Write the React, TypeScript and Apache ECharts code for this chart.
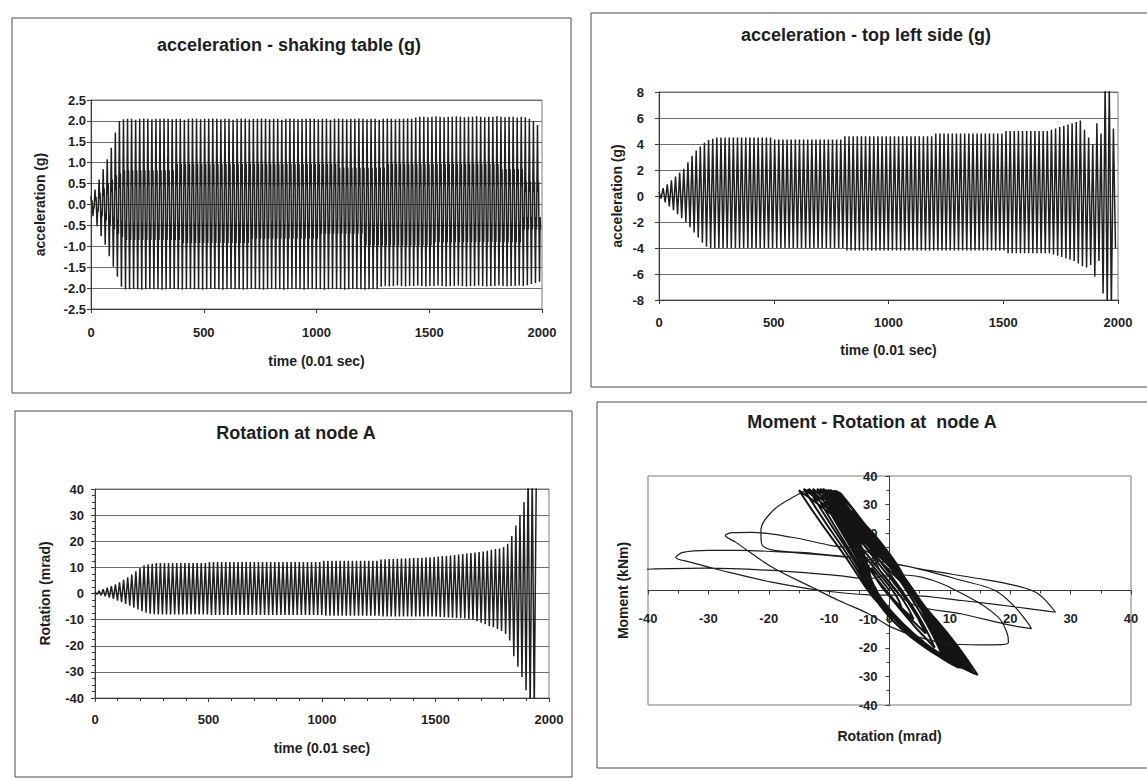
import React, { useEffect, useRef } from "react";
import * as echarts from "echarts";

const FONT = "'Liberation Sans', Arial, Helvetica, sans-serif";
const INK = "#202020";
const GRIDLINE = "#6e6e6e";
const AXIS = "#3a3a3a";

// ---- time axis (units of 0.01 sec) ----
const TIME_TICKS = [0, 500, 1000, 1500, 2000];
const PERIOD = 18; // one oscillation cycle (~18 x 0.01 s)
const P1_OFFSETS = [0, 2.5, 4.5, 9, 11.5, 13.5]; // turning points inside one table cycle

// ---- acceleration - shaking table (g): per-cycle turning points ----
const P1_POS = [
  0.2, 0.36, 0.6, 0.84, 1.08, 1.36, 1.72, 2.0, 2.04, 2.05,
  2.05, 2.03, 2.05, 2.06, 2.05, 2.04, 2.05, 2.05, 2.06, 2.05,
  2.04, 2.05, 2.05, 2.03, 2.05, 2.06, 2.05, 2.04, 2.05, 2.05,
  2.06, 2.05, 2.04, 2.05, 2.05, 2.03, 2.05, 2.06, 2.05, 2.04,
  2.05, 2.05, 2.06, 2.05, 2.04, 2.05, 2.05, 2.03, 2.05, 2.06,
  2.05, 2.04, 2.05, 2.05, 2.06, 2.05, 2.04, 2.05, 2.05, 2.03,
  2.05, 2.06, 2.05, 2.04, 2.05, 2.05, 2.06, 2.05, 2.04, 2.05,
  2.05, 2.03, 2.05, 2.06, 2.05, 2.04, 2.05, 2.05, 2.06, 2.05,
  2.08, 2.1, 2.1, 2.09, 2.1, 2.11, 2.1, 2.09, 2.1, 2.1,
  2.11, 2.1, 2.09, 2.1, 2.1, 2.11, 2.1, 2.09, 2.1, 2.1,
  2.11, 2.1, 2.09, 2.1, 2.1, 2.08, 2.1, 2.09, 2.05, 2.0,
  1.9,
];
const P1_HIDIP = [
  0.05, 0.1, 0.15, 0.2, 0.25, 0.3, 0.35, 0.4, 0.45, 0.45,
  0.45, 0.45, 0.45, 0.45, 0.45, 0.45, 0.45, 0.45, 0.45, 0.45,
  0.45, 0.45, 0.45, 0.45, 0.45, 0.45, 0.45, 0.45, 0.45, 0.45,
  0.45, 0.45, 0.45, 0.45, 0.45, 0.45, 0.45, 0.45, 0.45, 0.45,
  0.45, 0.45, 0.45, 0.45, 0.45, 0.45, 0.45, 0.45, 0.45, 0.45,
  0.45, 0.45, 0.45, 0.45, 0.45, 0.45, 0.45, 0.45, 0.45, 0.45,
  0.45, 0.45, 0.45, 0.45, 0.45, 0.45, 0.45, 0.45, 0.45, 0.45,
  0.45, 0.45, 0.45, 0.45, 0.45, 0.45, 0.45, 0.45, 0.45, 0.45,
  0.45, 0.45, 0.45, 0.45, 0.45, 0.45, 0.45, 0.45, 0.45, 0.45,
  0.45, 0.45, 0.45, 0.45, 0.45, 0.45, 0.45, 0.45, 0.45, 0.45,
  0.45, 0.45, 0.45, 0.45, 0.45, 0.45, 0.45, 0.3, 0.3, 0.3,
  0.3,
];
const P1_HI = [
  0.1, 0.18, 0.28, 0.38, 0.5, 0.6, 0.7, 0.75, 0.82, 0.82,
  0.82, 0.82, 0.82, 0.82, 0.82, 0.82, 0.82, 0.82, 0.82, 0.82,
  0.82, 0.97, 0.97, 0.97, 0.97, 0.97, 0.97, 0.97, 0.97, 0.97,
  0.97, 0.97, 0.97, 0.97, 0.97, 0.97, 0.97, 0.97, 0.97, 0.97,
  0.97, 0.97, 0.97, 0.97, 0.97, 0.97, 0.97, 0.97, 0.97, 0.97,
  0.97, 0.97, 0.97, 0.97, 0.97, 0.97, 0.97, 0.97, 0.97, 0.97,
  0.97, 0.88, 0.88, 0.88, 0.88, 0.88, 0.88, 0.88, 0.88, 0.88,
  0.88, 0.88, 0.88, 0.97, 0.97, 0.97, 0.97, 0.97, 0.97, 0.97,
  0.97, 0.97, 0.97, 0.97, 0.97, 0.97, 0.97, 0.97, 0.97, 0.97,
  0.97, 0.97, 0.97, 0.97, 0.97, 0.97, 0.97, 0.97, 0.97, 0.97,
  0.97, 0.85, 0.85, 0.85, 0.85, 0.85, 0.85, 0.55, 0.55, 0.55,
  0.55,
];
const P1_NEG = [
  -0.28, -0.52, -0.76, -0.96, -1.24, -1.49, -1.73, -1.97, -2.03, -2.03,
  -2.02, -2.03, -2.04, -2.03, -2.02, -2.03, -2.03, -2.04, -2.03, -2.02,
  -2.02, -2.03, -2.04, -2.03, -2.02, -2.03, -2.03, -2.04, -2.03, -2.02,
  -2.02, -2.03, -2.04, -2.03, -2.02, -2.03, -2.03, -2.04, -2.03, -2.02,
  -2.02, -2.03, -2.04, -2.03, -2.02, -2.03, -2.03, -2.04, -2.03, -2.02,
  -2.02, -2.03, -2.04, -2.03, -2.02, -2.03, -2.03, -2.04, -2.03, -2.02,
  -2.02, -2.03, -2.04, -2.03, -2.02, -2.03, -2.03, -2.04, -2.03, -2.02,
  -2.03, -1.97, -1.95, -1.96, -1.95, -1.94, -1.95, -1.96, -1.95, -1.95,
  -1.94, -1.95, -1.96, -1.95, -1.95, -1.94, -1.95, -1.96, -1.95, -1.95,
  -1.94, -1.95, -1.96, -1.95, -1.95, -1.94, -1.95, -1.96, -1.95, -1.95,
  -1.94, -1.95, -1.96, -1.95, -1.95, -1.94, -1.95, -1.93, -1.9, -1.88,
  -1.85,
];
const P1_LODIP = [
  -0.05, -0.1, -0.15, -0.2, -0.25, -0.3, -0.35, -0.4, -0.45, -0.45,
  -0.45, -0.45, -0.45, -0.45, -0.45, -0.45, -0.45, -0.45, -0.45, -0.45,
  -0.45, -0.45, -0.45, -0.45, -0.45, -0.45, -0.45, -0.45, -0.45, -0.45,
  -0.45, -0.45, -0.45, -0.45, -0.45, -0.45, -0.45, -0.45, -0.45, -0.45,
  -0.45, -0.45, -0.45, -0.45, -0.45, -0.45, -0.45, -0.45, -0.45, -0.45,
  -0.45, -0.45, -0.45, -0.45, -0.45, -0.45, -0.45, -0.45, -0.45, -0.45,
  -0.45, -0.45, -0.45, -0.45, -0.45, -0.45, -0.45, -0.45, -0.45, -0.45,
  -0.45, -0.45, -0.45, -0.45, -0.45, -0.45, -0.45, -0.45, -0.45, -0.45,
  -0.45, -0.45, -0.45, -0.45, -0.45, -0.45, -0.45, -0.45, -0.45, -0.45,
  -0.45, -0.45, -0.45, -0.45, -0.45, -0.45, -0.45, -0.45, -0.45, -0.45,
  -0.45, -0.45, -0.45, -0.45, -0.45, -0.45, -0.3, -0.3, -0.3, -0.3,
  -0.3,
];
const P1_LO = [
  -0.1, -0.18, -0.28, -0.38, -0.5, -0.6, -0.7, -0.78, -0.85, -0.85,
  -0.85, -0.85, -0.85, -0.85, -0.85, -0.85, -0.85, -0.85, -0.85, -0.85,
  -0.85, -0.85, -0.92, -0.92, -0.92, -0.92, -0.92, -0.92, -0.92, -0.92,
  -0.92, -0.92, -0.92, -0.92, -0.92, -0.92, -0.92, -0.92, -0.92, -0.82,
  -0.82, -0.82, -0.82, -0.82, -0.82, -0.82, -0.82, -0.82, -0.82, -0.82,
  -0.82, -0.82, -0.82, -0.82, -0.82, -0.82, -0.7, -0.7, -0.7, -0.7,
  -0.7, -0.7, -0.7, -0.7, -0.7, -0.7, -0.7, -0.98, -0.98, -0.98,
  -0.98, -0.98, -0.98, -0.98, -0.98, -0.98, -0.98, -0.98, -0.98, -0.98,
  -0.98, -0.98, -0.98, -0.98, -0.9, -0.9, -0.9, -0.9, -0.9, -0.9,
  -0.9, -0.9, -0.9, -0.9, -0.9, -0.9, -0.9, -0.9, -0.9, -0.9,
  -0.9, -0.9, -0.9, -0.9, -0.9, -0.9, -0.6, -0.6, -0.6, -0.6,
  -0.6,
];

// ---- acceleration - top left side (g): per-cycle peaks ----
const P2_POS = [
  0.3, 0.6, 0.9, 1.2, 1.5, 1.8, 2.1, 2.6, 3.1, 3.5,
  3.8, 4.1, 4.3, 4.4, 4.5, 4.5, 4.5, 4.5, 4.5, 4.5,
  4.5, 4.5, 4.5, 4.5, 4.5, 4.5, 4.5, 4.5, 4.35, 4.35,
  4.35, 4.35, 4.35, 4.35, 4.35, 4.35, 4.35, 4.35, 4.35, 4.35,
  4.35, 4.35, 4.35, 4.35, 4.35, 4.6, 4.6, 4.6, 4.6, 4.6,
  4.6, 4.6, 4.6, 4.6, 4.6, 4.6, 4.6, 4.6, 4.6, 4.6,
  4.6, 4.6, 4.6, 4.6, 4.6, 4.6, 4.6, 4.8, 4.8, 4.8,
  4.8, 4.8, 4.8, 4.8, 4.8, 4.8, 4.8, 4.8, 4.8, 4.8,
  4.8, 4.8, 4.8, 4.8, 5.0, 5.0, 5.0, 5.0, 5.0, 5.0,
  5.0, 5.0, 5.0, 5.0, 5.0, 5.1, 5.2, 5.3, 5.4, 5.5,
  5.6, 5.7, 5.8, 5.1, 4.5, 4.0, 5.6, 4.8, 8.6, 8.6,
  5.2,
];
const P2_NEG = [
  -0.2, -0.5, -0.8, -1.1, -1.4, -1.7, -2.0, -2.4, -2.8, -3.2,
  -3.6, -3.9, -4.0, -4.0, -4.0, -4.0, -4.0, -4.0, -4.0, -4.0,
  -4.0, -4.0, -4.0, -4.0, -4.0, -4.0, -4.0, -4.0, -4.0, -4.0,
  -4.0, -4.0, -4.0, -4.0, -4.0, -4.0, -4.0, -4.0, -4.0, -4.0,
  -4.0, -4.0, -4.0, -4.0, -4.0, -4.2, -4.2, -4.2, -4.2, -4.2,
  -4.2, -4.2, -4.2, -4.2, -4.2, -4.2, -4.2, -4.2, -4.2, -4.2,
  -4.2, -4.2, -4.2, -4.2, -4.2, -4.2, -4.2, -4.2, -4.2, -4.2,
  -4.2, -4.2, -4.2, -4.2, -4.2, -4.2, -4.2, -4.2, -4.2, -4.2,
  -4.2, -4.2, -4.2, -4.2, -4.4, -4.4, -4.4, -4.4, -4.4, -4.4,
  -4.4, -4.4, -4.4, -4.4, -4.4, -4.5, -4.6, -4.7, -4.8, -4.9,
  -5.0, -5.2, -5.4, -5.5, -5.3, -6.2, -5.0, -7.5, -8.6, -8.6,
  -4.0,
];

// ---- Rotation at node A (mrad): per-cycle peaks ----
const P3_POS = [
  0.5, 1.0, 1.6, 2.2, 2.8, 3.5, 4.3, 5.2, 6.2, 7.3,
  8.5, 9.7, 10.8, 11.2, 11.4, 11.7, 11.7, 11.7, 11.7, 11.7,
  11.7, 11.7, 11.7, 11.7, 11.7, 11.7, 11.7, 11.7, 12.0, 12.0,
  12.0, 12.0, 12.0, 12.0, 12.0, 12.0, 12.0, 12.0, 12.0, 12.0,
  12.0, 12.0, 12.0, 12.0, 12.0, 12.0, 12.0, 12.0, 12.0, 12.0,
  12.0, 12.0, 12.0, 12.0, 12.0, 12.0, 12.5, 12.5, 12.5, 12.5,
  12.5, 12.5, 12.5, 12.5, 12.5, 12.5, 12.5, 12.5, 12.5, 12.5,
  13.0, 13.1, 13.2, 13.2, 13.3, 13.4, 13.4, 13.5, 13.6, 13.6,
  13.7, 13.8, 13.9, 14.0, 14.2, 14.3, 14.4, 14.5, 14.7, 14.9,
  15.1, 15.3, 15.5, 15.7, 15.9, 16.1, 16.4, 16.7, 17.0, 17.2,
  17.8, 19, 22, 26, 30, 35, 45, 45, 45,
];
const P3_NEG = [
  -0.3, -0.7, -1.1, -1.6, -2.1, -2.7, -3.3, -4.0, -4.7, -5.4,
  -6.1, -6.8, -7.4, -7.7, -7.9, -8.0, -8.0, -8.0, -8.0, -8.0,
  -8.0, -8.0, -8.0, -8.0, -8.0, -8.0, -8.0, -8.0, -8.2, -8.2,
  -8.2, -8.2, -8.2, -8.2, -8.2, -8.2, -8.2, -8.2, -8.2, -8.2,
  -8.2, -8.2, -8.2, -8.2, -8.2, -8.2, -8.2, -8.2, -8.2, -8.2,
  -8.2, -8.2, -8.2, -8.2, -8.2, -8.2, -8.5, -8.5, -8.5, -8.5,
  -8.5, -8.5, -8.5, -8.5, -8.5, -8.5, -8.5, -8.5, -8.5, -8.5,
  -8.8, -8.8, -8.8, -8.8, -8.8, -8.8, -8.8, -8.8, -8.8, -8.8,
  -8.8, -8.8, -8.8, -8.8, -9.0, -9.1, -9.2, -9.3, -9.4, -9.5,
  -9.6, -9.8, -10.1, -10.6, -11.2, -11.8, -12.4, -12.9, -13.6, -14.3,
  -15.5, -18, -24, -28, -32, -37, -45, -45,
];

// ---- Moment - Rotation at node A: hysteresis trace [rotation mrad, moment kNm] ----
const MR_BAND: [number, number][] = [
  [0, 0],
  [-3, 8], [-2.1, 3.8], [-0.1, -1.8], [2, -6], [1.1, -1.8], [-0.9, 3.8],
  [-5, 14], [-3.1, 6.8], [0.5, -2.8], [4, -10], [2.1, -2.8], [-1.5, 6.8],
  [-7, 21], [-4.1, 10.2], [1.1, -4.2], [6, -15], [3.1, -4.2], [-2.1, 10.2],
  [-8.5, 27], [-4.9, 12.9], [1.5, -5.9], [7.5, -20], [3.9, -5.9], [-2.5, 12.9],
  [-9.5, 32], [-5.95, 15.2], [-0.85, -7.2], [9, -24], [4.95, -7.2], [-2.45, 15.2],
  [-10, 34], [-6.0, 16.3], [-0.3, -7.3], [10, -25], [5.5, -7.3], [-2.5, 16.3],
  [-9, 35], [-5.35, 17.15], [-0.25, -6.65], [9.5, -24.5], [5.35, -6.65], [-2.05, 17.15],
  [-8.2, 34.2], [-5.0, 17.2], [-0.4, -6.4], [9.2, -24], [5.2, -6.4], [-1.6, 17.2],
  [-10.5, 35], [-6.2, 16.7], [-0.1, -7.7], [10.5, -26], [5.7, -7.7], [-2.7, 16.7],
  [-9.2, 35], [-5.6, 16.9], [0.1, -7.2], [10.2, -25.5], [5.8, -7.2], [-2.0, 16.9],
  [-8.5, 34.5], [-5.25, 17.1], [-0.55, -6.1], [9, -23.5], [5.25, -6.1], [-1.75, 17.1],
  [-11, 35.5], [-6.5, 16.9], [0, -7.9], [11, -26.5], [6, -7.9], [-2.8, 16.9],
  [-10.2, 35.2], [-6.1, 16.7], [0.4, -7.8], [11, -26.2], [6.2, -7.8], [-2.4, 16.7],
  [-9.5, 35], [-5.65, 17], [-0.15, -7], [10, -25], [5.65, -7], [-2.15, 17],
  [-9.6, 34.8], [-5.8, 16.8], [0.2, -7.4], [10.4, -25.6], [6.0, -7.4], [-2.2, 16.8],
  [-10, 35], [-5.65, 16.4], [0.65, -8.4], [11.5, -27], [6.65, -8.4], [-1.95, 16.4],
  [-9.8, 35.2], [-5.9, 16.8], [0.3, -7.5], [10.8, -26], [6.0, -7.5], [-2.3, 16.8],
  [-11.2, 35.4], [-6.6, 16.6], [0.7, -8.2], [11.8, -27], [6.6, -8.2], [-2.8, 16.6],
  [-10.8, 35.3], [-6.3, 16.6], [0.6, -8], [11.2, -26.8], [6.3, -8], [-2.6, 16.6],
  [-10.6, 35.2], [-6.4, 16.7], [0.5, -8.0], [11.4, -26.6], [6.5, -8.0], [-2.6, 16.7],
  [-8.8, 34.8], [-5.5, 17], [0, -6.8], [9.8, -24.8], [5.5, -6.8], [-1.9, 17],
  [-11.5, 35.5], [-6.65, 16.75], [0.45, -8.25], [12, -27], [6.65, -8.25], [-2.75, 16.75],
  [-12, 35.5], [-6.85, 16.6], [0.65, -8.6], [12.5, -27.5], [6.85, -8.6], [-2.95, 16.6],
  [-12.7, 35.5], [-7.29, 16.45], [0.69, -8.95], [13, -28], [7.09, -8.95], [-3.19, 16.45],
  [-13.4, 35.5], [-7.63, 16.3], [0.83, -9.3], [13.5, -28.5], [7.23, -9.3], [-3.53, 16.3],
  [-14.2, 35.5], [-8.14, 16.15], [0.84, -9.65], [14, -29], [7.44, -9.65], [-3.84, 16.15],
  [-15, 35], [-8.62, 15.65], [0.92, -10.15], [14.6, -29.5], [7.72, -10.15], [-4.12, 15.65],
  [-13.5, 35.3],
];
const MR_FINAL: [number, number][] = [
  [-13.5, 35.3], [-16.5, 32], [-19.5, 27.5], [-21.3, 21], [-21.2, 16.5], [-19.5, 14.2],
  [-14, 13.2], [-8, 12], [-1, 10], [6.5, 7], [14.7, 4.2], [20.9, 1.7], [24.5, -1],
  [27.5, -7.6], [23, -6.3], [12, -3.5], [3.6, -1.7], [-3.5, -1.5], [-11.3, 0],
  [-19.5, 2.9], [-27.8, 7], [-33, 9.9], [-35.4, 11.5], [-34.2, 13.3], [-30, 14],
  [-25, 14], [-13.9, 12.9], [-3.5, 10.8], [3.1, 8.4], [12, 3.5], [17.5, 0],
  [20.8, -5.8], [23, -11.6], [23.5, -13.3], [20.2, -12.2], [12, -8.2], [3.6, -4.6],
  [-1, 5], [-3.5, 13.4], [-9.6, 15.7], [-16.2, 18.6], [-22.8, 20.3], [-26, 20.2],
  [-27.2, 19.2], [-25.5, 16.9], [-19.5, 8.2], [-12.9, 1.2], [-8.4, -3.5], [-3.5, -8.1],
  [0.3, -12.8], [4.8, -16.3], [10, -18.6], [15, -19], [18.6, -18.9], [19.7, -18.1],
  [19.5, -15], [18, -9.3], [13.1, -2.3], [5.3, 4.7], [0, 5.5], [-3.5, 4.1],
  [-8.4, 5.2], [-19.5, 7], [-30.5, 7.8], [-42, 7.3],
];

function buildTable(): [number, number][] {
  const out: [number, number][] = [];
  const n = Math.min(P1_POS.length, P1_HIDIP.length, P1_HI.length, P1_NEG.length, P1_LODIP.length, P1_LO.length);
  for (let k = 0; k < n; k++) {
    const t = k * PERIOD;
    const vals = [P1_POS[k], P1_HIDIP[k], P1_HI[k], P1_NEG[k], P1_LODIP[k], P1_LO[k]];
    vals.forEach((v, i) => out.push([t + P1_OFFSETS[i], v]));
  }
  return out;
}

function buildPairs(pos: number[], neg: number[]): [number, number][] {
  const out: [number, number][] = [];
  for (let k = 0; k < pos.length; k++) {
    const t = k * PERIOD;
    out.push([t, pos[k]]);
    if (k < neg.length) out.push([t + PERIOD / 2, neg[k]]);
  }
  return out;
}

const tickLabel = (margin: number, extra: any = {}) => ({
  fontFamily: FONT,
  fontSize: 13,
  fontWeight: "bold",
  color: "#1e1e1e",
  margin,
  ...extra,
});
const nameStyle = { fontFamily: FONT, fontSize: 14, fontWeight: "bold", color: "#1e1e1e" };
const plain = (v: number) => String(v);

function timeAxis(gridIndex: number, margin: number, nameGap: number, minor: boolean) {
  return {
    gridIndex,
    type: "value",
    min: TIME_TICKS[0],
    max: TIME_TICKS[TIME_TICKS.length - 1],
    interval: TIME_TICKS[1] - TIME_TICKS[0],
    axisLine: { show: true, onZero: false, lineStyle: { color: AXIS, width: 1 } },
    axisTick: { show: true, length: 4, lineStyle: { color: AXIS } },
    minorTick: { show: minor, splitNumber: 5, length: 3, lineStyle: { color: AXIS } },
    axisLabel: tickLabel(margin, { formatter: plain }),
    splitLine: { show: false },
    name: "time (0.01 sec)",
    nameLocation: "middle",
    nameGap,
    nameTextStyle: nameStyle,
  };
}

function valueAxis(gridIndex: number, min: number, max: number, interval: number, name: string, nameGap: number, margin: number, opts: any = {}) {
  return {
    gridIndex,
    type: "value",
    min,
    max,
    interval,
    axisLine: { show: true, onZero: false, lineStyle: { color: AXIS, width: 1 } },
    axisTick: { show: true, length: 4, lineStyle: { color: AXIS } },
    axisLabel: tickLabel(margin, { formatter: opts.formatter || plain }),
    splitLine: { show: opts.split !== false, lineStyle: { color: GRIDLINE, width: 1 } },
    minorTick: opts.minorTick || { show: false },
    name,
    nameLocation: "middle",
    nameGap,
    nameRotate: 90,
    nameTextStyle: nameStyle,
  };
}

const frame = (x: number, y: number, w: number, h: number) => ({
  type: "rect",
  silent: true,
  shape: { x, y, width: w, height: h },
  style: { fill: "none", stroke: "#4a4a4a", lineWidth: 1 },
  z: 0,
});
const titleText = (text: string, x: number, y: number) => ({
  type: "text",
  silent: true,
  x,
  y,
  style: {
    text,
    font: `bold 18px ${FONT}`,
    fill: "#1e1e1e",
    textAlign: "center",
    textVerticalAlign: "middle",
    align: "center",
    verticalAlign: "middle",
  },
  z: 10,
});

const gridBox = (left: number, top: number, right: number, bottom: number) => ({
  left,
  top,
  width: right - left,
  height: bottom - top,
  show: true,
  borderColor: "#7a7a7a",
  borderWidth: 1,
  backgroundColor: "transparent",
  containLabel: false,
  outerBoundsMode: "none",
});

const lineSeries = (idx: number, data: [number, number][], extra: any = {}) => ({
  type: "line",
  xAxisIndex: idx,
  yAxisIndex: idx,
  data,
  symbol: "none",
  showSymbol: false,
  clip: true,
  animation: false,
  lineStyle: { color: INK, width: 1.25 },
  emphasis: { disabled: true },
  ...extra,
});

// moment-rotation grid: rotation -40..40 on 648..1131, moment -40..40 on 476..705
const MR_GRID = { left: 648, top: 476, right: 1131, bottom: 705 };
const MR_ZERO_X = (MR_GRID.left + MR_GRID.right) / 2;
const MR_ZERO_Y = (MR_GRID.top + MR_GRID.bottom) / 2;

export default function App() {
  const ref = useRef<HTMLDivElement>(null);

  useEffect(() => {
    if (!ref.current) return;
    const chart = echarts.init(ref.current, undefined, { renderer: "svg" });
    const option: any = {
      animation: false,
      backgroundColor: "#ffffff",
      textStyle: { fontFamily: FONT },
      grid: [
        gridBox(91, 100, 542, 309),
        gridBox(659, 92, 1118, 300),
        gridBox(95, 489, 549, 698),
        gridBox(MR_GRID.left, MR_GRID.top, MR_GRID.right, MR_GRID.bottom),
      ],
      xAxis: [
        timeAxis(0, 17, 45, false),
        timeAxis(1, 16, 43, false),
        timeAxis(2, 15, 43, true),
        {
          gridIndex: 3,
          type: "value",
          min: -40,
          max: 40,
          interval: 10,
          position: "bottom",
          offset: -(MR_GRID.bottom - MR_ZERO_Y),
          axisLine: { show: true, onZero: false, lineStyle: { color: AXIS } },
          axisTick: { show: true, length: 4, lineStyle: { color: AXIS } },
          minorTick: { show: true, splitNumber: 2, length: 3, lineStyle: { color: AXIS } },
          axisLabel: tickLabel(21, { formatter: plain }),
          splitLine: { show: false },
          name: "Rotation (mrad)",
          nameLocation: "middle",
          nameGap: 138,
          nameTextStyle: nameStyle,
        },
      ],
      yAxis: [
        valueAxis(0, -2.5, 2.5, 0.5, "acceleration (g)", 44, 5, {
          formatter: (v: number) => v.toFixed(1),
        }),
        valueAxis(1, -8, 8, 2, "acceleration (g)", 35, 15),
        valueAxis(2, -40, 40, 10, "Rotation (mrad)", 43, 11, {
          minorTick: { show: true, splitNumber: 4, length: 3, lineStyle: { color: AXIS } },
        }),
        {
          gridIndex: 3,
          type: "value",
          min: -40,
          max: 40,
          interval: 10,
          position: "left",
          offset: -(MR_ZERO_X - MR_GRID.left),
          axisLine: { show: true, onZero: false, lineStyle: { color: AXIS } },
          axisTick: { show: true, length: 4, lineStyle: { color: AXIS } },
          minorTick: { show: true, splitNumber: 2, length: 3, lineStyle: { color: AXIS } },
          axisLabel: tickLabel(12, { formatter: plain }),
          splitLine: { show: false },
          name: "Moment (kNm)",
          nameLocation: "middle",
          nameGap: 260,
          nameRotate: 90,
          nameTextStyle: nameStyle,
        },
      ],
      series: [
        lineSeries(0, buildTable(), { lineStyle: { color: INK, width: 1.5 } }),
        lineSeries(1, buildPairs(P2_POS, P2_NEG), { lineStyle: { color: INK, width: 1.5 } }),
        lineSeries(2, buildPairs(P3_POS, P3_NEG), { lineStyle: { color: INK, width: 1.5 } }),
        lineSeries(3, MR_BAND, { smooth: 0.5, lineStyle: { color: "#141414", width: 2 } }),
        lineSeries(3, MR_FINAL, { smooth: 0.35, lineStyle: { color: "#1c1c1c", width: 1.2 } }),
      ],
      graphic: [
        frame(12, 18, 559, 375),
        frame(591, 13, 570, 374),
        frame(15, 411, 557, 366),
        frame(597, 402, 560, 366),
        titleText("acceleration - shaking table (g)", 289, 45),
        titleText("acceleration - top left side (g)", 866, 35),
        titleText("Rotation at node A", 296, 433),
        titleText("Moment - Rotation at  node A", 872, 422),
      ],
    };
    chart.setOption(option);
    return () => chart.dispose();
  }, []);

  return (
    <div
      ref={ref}
      style={{ position: "fixed", left: 0, top: 0, width: 1147, height: 779, background: "#fff" }}
    />
  );
}
